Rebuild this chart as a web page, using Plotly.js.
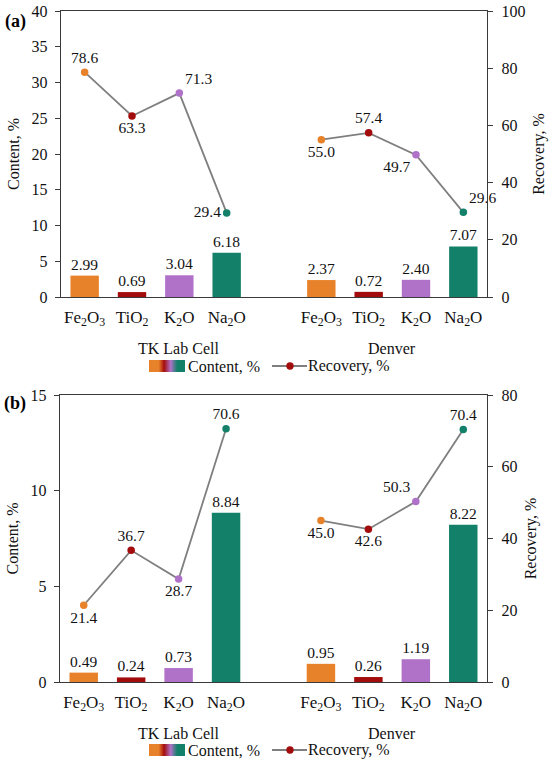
<!DOCTYPE html>
<html>
<head>
<meta charset="utf-8">
<script src="https://cdn.plot.ly/plotly-3.0.1.min.js"></script>
<style>
html,body{margin:0;padding:0;background:#fff;}
#pa{width:550px;height:381px;}
#pb{width:550px;height:382px;}
</style>
</head>
<body>
<div id="pa"></div>
<div id="pb"></div>
<script>
// ---- data ----
const groups = ['TK Lab Cell', 'Denver'];
const oxides = ['Fe<sub>2</sub>O<sub>3</sub>', 'TiO<sub>2</sub>', 'K<sub>2</sub>O', 'Na<sub>2</sub>O'];
const oxideColors = ['#E8822A', '#A30C0C', '#B072C9', '#13806A'];

const contentA_TK = [2.99, 0.69, 3.04, 6.18];
const contentA_Denver = [2.37, 0.72, 2.40, 7.07];
const recoveryA_TK = [78.6, 63.3, 71.3, 29.4];
const recoveryA_Denver = [55.0, 57.4, 49.7, 29.6];

const contentB_TK = [0.49, 0.24, 0.73, 8.84];
const contentB_Denver = [0.95, 0.26, 1.19, 8.22];
const recoveryB_TK = [21.4, 36.7, 28.7, 70.6];
const recoveryB_Denver = [45.0, 42.6, 50.3, 70.4];

const legendContent = 'Content, %';
const legendRecovery = 'Recovery, %';
const yTitleLeft = 'Content, %';
const yTitleRight = 'Recovery, %';

// ---- styling ----
const FONT = 'Liberation Serif';
const TXT = '#111';
const AXC = '#3a3a3a';
const LINEC = '#7f7f7f';

// slot index: groups separated by one empty slot
function slotX(g, i) { return g * (oxides.length + 1) + i; }

function gradientSrc() {
  const svg = "<svg xmlns='http://www.w3.org/2000/svg' width='100' height='10' preserveAspectRatio='none'>" +
    "<defs><linearGradient id='g' x1='0' x2='1' y1='0' y2='0'>" +
    "<stop offset='0' stop-color='" + oxideColors[0] + "'/>" +
    "<stop offset='0.27' stop-color='" + oxideColors[0] + "'/>" +
    "<stop offset='0.42' stop-color='" + oxideColors[1] + "'/>" +
    "<stop offset='0.6' stop-color='" + oxideColors[2] + "'/>" +
    "<stop offset='0.78' stop-color='" + oxideColors[3] + "'/>" +
    "<stop offset='1' stop-color='" + oxideColors[3] + "'/>" +
    "</linearGradient></defs><rect width='100' height='10' fill='url(#g)'/></svg>";
  return 'data:image/svg+xml;charset=utf-8,' + encodeURIComponent(svg);
}

function buildPanel(divId, p) {
  const W = p.width, H = p.height;
  const L = p.L, R = p.R, T = p.T, B = p.B;
  const px = v => (v - L) / (R - L);
  const py = v => (B - v) / (B - T);

  const traces = [];
  const contents = [p.contentTK, p.contentDen];
  const recs = [p.recTK, p.recDen];
  groups.forEach((g, gi) => {
    const xs = oxides.map((o, i) => slotX(gi, i));
    traces.push({
      type: 'bar', x: xs, y: contents[gi], width: 0.6,
      marker: { color: oxideColors, line: { width: 0 } },
      text: contents[gi].map(v => v.toFixed(2)),
      textposition: 'outside', cliponaxis: false, constraintext: 'none',
      textfont: { family: FONT, size: 15.5, color: TXT },
      showlegend: false, hoverinfo: 'none', xaxis: 'x', yaxis: 'y'
    });
  });
  groups.forEach((g, gi) => {
    const xs = oxides.map((o, i) => slotX(gi, i));
    traces.push({
      type: 'scatter', mode: 'lines+markers+text', x: xs, y: recs[gi],
      line: { color: LINEC, width: 1.8 },
      marker: { color: oxideColors, size: 7.5 },
      text: recs[gi].map(v => v.toFixed(1)),
      textposition: p.textpos[gi], cliponaxis: false,
      textfont: { family: FONT, size: 15.5, color: TXT },
      showlegend: false, hoverinfo: 'none', xaxis: 'x', yaxis: 'y2'
    });
  });

  const tickvals = [], ticktext = [];
  groups.forEach((g, gi) => oxides.forEach((o, i) => { tickvals.push(slotX(gi, i)); ticktext.push(o); }));

  const nSlots = groups.length * (oxides.length + 1) - 1;
  const ly = p.legendY;
  const layout = {
    width: W, height: H,
    margin: { l: L, r: W - R, t: T, b: H - B, pad: 0 },
    paper_bgcolor: '#fff', plot_bgcolor: '#fff',
    font: { family: FONT, size: 16, color: TXT },
    showlegend: false,
    xaxis: {
      range: [-0.5, nSlots - 0.5], tickvals: tickvals, ticktext: ticktext,
      showline: true, linecolor: AXC, linewidth: 1.3, mirror: true,
      ticks: 'outside', ticklen: 4, tickcolor: 'rgba(0,0,0,0)',
      showgrid: false, zeroline: false, tickfont: { family: FONT, size: 17, color: TXT }
    },
    yaxis: {
      range: [0, p.yMax], dtick: p.yDtick, showline: true, linecolor: AXC, linewidth: 1.3,
      ticks: 'outside', ticklen: 5, tickcolor: AXC, showgrid: false, zeroline: false,
      ticklabelstandoff: 4,
      tickfont: { family: FONT, size: 16, color: TXT },
      title: { text: yTitleLeft, standoff: 8, font: { family: FONT, size: 16, color: TXT } }
    },
    yaxis2: {
      range: [0, p.y2Max], dtick: 20, overlaying: 'y', side: 'right', showline: true,
      linecolor: AXC, linewidth: 1.3, ticks: 'outside', ticklen: 5, tickcolor: AXC,
      showgrid: false, zeroline: false, ticklabelstandoff: 5,
      tickfont: { family: FONT, size: 16, color: TXT },
      title: { text: yTitleRight, standoff: 8, font: { family: FONT, size: 16, color: TXT } }
    },
    images: [{
      source: gradientSrc(), xref: 'paper', yref: 'paper',
      x: px(149), y: py(ly - 6), sizex: px(185) - px(149), sizey: py(ly - 6) - py(ly + 6),
      sizing: 'stretch', xanchor: 'left', yanchor: 'top', layer: 'above'
    }],
    shapes: [
      { type: 'line', xref: 'paper', yref: 'paper', x0: px(272), x1: px(307), y0: py(ly), y1: py(ly),
        line: { color: LINEC, width: 1.8 } },
      { type: 'circle', xref: 'paper', yref: 'paper', xsizemode: 'pixel', ysizemode: 'pixel',
        xanchor: px(290), yanchor: py(ly), x0: -3.7, x1: 3.7, y0: -3.7, y1: 3.7,
        fillcolor: oxideColors[1], line: { width: 0 } }
    ],
    annotations: [
      { text: '<b>' + p.label + '</b>', xref: 'paper', yref: 'paper', x: px(p.labelX), y: py(p.labelY),
        xanchor: 'center', yanchor: 'middle', showarrow: false, font: { family: FONT, size: 18, color: '#000' } },
      { text: groups[0], xref: 'paper', yref: 'paper', x: px(178), y: py(p.groupY),
        xanchor: 'center', yanchor: 'middle', showarrow: false, font: { family: FONT, size: 16, color: TXT } },
      { text: groups[1], xref: 'paper', yref: 'paper', x: px(392), y: py(p.groupY),
        xanchor: 'center', yanchor: 'middle', showarrow: false, font: { family: FONT, size: 16, color: TXT } },
      { text: legendContent, xref: 'paper', yref: 'paper', x: px(186), y: py(ly),
        xanchor: 'left', yanchor: 'middle', showarrow: false, font: { family: FONT, size: 16, color: TXT } },
      { text: legendRecovery, xref: 'paper', yref: 'paper', x: px(306), y: py(ly),
        xanchor: 'left', yanchor: 'middle', showarrow: false, font: { family: FONT, size: 16, color: TXT } }
    ]
  };
  Plotly.newPlot(divId, traces, layout, { staticPlot: true, displayModeBar: false });
}

buildPanel('pa', {
  width: 550, height: 381, L: 61, R: 487, T: 11, B: 297,
  contentTK: contentA_TK, contentDen: contentA_Denver,
  recTK: recoveryA_TK, recDen: recoveryA_Denver,
  yMax: 40, yDtick: 5, y2Max: 100,
  textpos: [['top center', 'bottom center', 'top right', 'middle left'],
            ['bottom center', 'top center', 'bottom left', 'top right']],
  label: '(a)', labelX: 15, labelY: 21, groupY: 348, legendY: 366
});

buildPanel('pb', {
  width: 550, height: 382, L: 60, R: 487, T: 14, B: 301,
  contentTK: contentB_TK, contentDen: contentB_Denver,
  recTK: recoveryB_TK, recDen: recoveryB_Denver,
  yMax: 15, yDtick: 5, y2Max: 80,
  textpos: [['bottom center', 'top center', 'bottom center', 'top center'],
            ['bottom center', 'bottom center', 'top left', 'top center']],
  label: '(b)', labelX: 15, labelY: 22, groupY: 352, legendY: 369
});
</script>
</body>
</html>
